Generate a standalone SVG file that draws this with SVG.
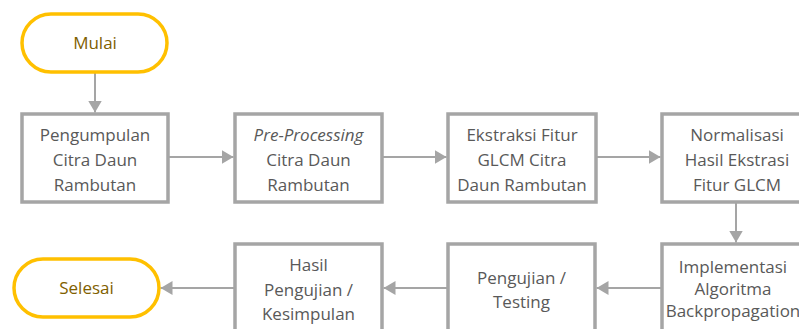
<svg xmlns="http://www.w3.org/2000/svg" width="799" height="329" viewBox="0 0 799 329">
  <style>
    .box { fill: #ffffff; stroke: #a5a5a5; stroke-width: 3.5; }
    .term { fill: #ffffff; stroke: #ffc000; stroke-width: 3.5; }
    .lbl { font-family: "Open Sans", "Noto Sans", "Liberation Sans", sans-serif; font-size: 17px; fill: #595959; text-anchor: middle; }
    .tlbl { font-family: "Open Sans", "Noto Sans", "Liberation Sans", sans-serif; font-size: 17px; fill: #7f6000; text-anchor: middle; }
    .conn { stroke: #a5a5a5; stroke-width: 2; fill: none; marker-end: url(#arrow); }
  </style>
  <defs>
    <marker id="arrow" markerWidth="6" markerHeight="7" refX="6" refY="3.5" orient="auto" markerUnits="strokeWidth">
      <path d="M0,0 L6,3.5 L0,7 Z" fill="#a5a5a5"/>
    </marker>
  </defs>
  <rect width="799" height="329" fill="#ffffff"/>

  <g id="connectors">
    <line class="conn" x1="95" y1="73" x2="95" y2="112.5"/>
    <line class="conn" x1="168" y1="157" x2="233.5" y2="157"/>
    <line class="conn" x1="382" y1="157" x2="446.5" y2="157"/>
    <line class="conn" x1="596" y1="157" x2="660.5" y2="157"/>
    <line class="conn" x1="736" y1="202" x2="736" y2="242.5"/>
    <line class="conn" x1="662" y1="288" x2="596.5" y2="288"/>
    <line class="conn" x1="448" y1="288" x2="383.5" y2="288"/>
    <line class="conn" x1="235" y1="288" x2="160.5" y2="288"/>
  </g>

  <g id="mulai">
    <rect class="term" x="22" y="14" width="145" height="58" rx="29" ry="29"/>
    <text class="tlbl" x="95" y="49">Mulai</text>
  </g>

  <g id="pengumpulan">
    <rect class="box" x="22" y="114" width="146" height="88"/>
    <text class="lbl" x="95" y="141">Pengumpulan</text>
    <text class="lbl" x="95" y="166">Citra Daun</text>
    <text class="lbl" x="95" y="191">Rambutan</text>
  </g>

  <g id="preprocessing">
    <rect class="box" x="235" y="114" width="147" height="88"/>
    <text class="lbl" x="308.5" y="141" font-style="italic">Pre-Processing</text>
    <text class="lbl" x="308.5" y="166">Citra Daun</text>
    <text class="lbl" x="308.5" y="191">Rambutan</text>
  </g>

  <g id="ekstraksi">
    <rect class="box" x="448" y="114" width="148" height="88"/>
    <text class="lbl" x="522" y="141">Ekstraksi Fitur</text>
    <text class="lbl" x="522" y="166">GLCM Citra</text>
    <text class="lbl" x="522" y="191">Daun Rambutan</text>
  </g>

  <g id="normalisasi">
    <rect class="box" x="662" y="114" width="148" height="88"/>
    <text class="lbl" x="737" y="141">Normalisasi</text>
    <text class="lbl" x="737" y="166">Hasil Ekstrasi</text>
    <text class="lbl" x="737" y="191">Fitur GLCM</text>
  </g>

  <g id="implementasi">
    <rect class="box" x="662" y="244" width="148" height="100"/>
    <text class="lbl" x="733" y="273" font-size="15px">Implementasi</text>
    <text class="lbl" x="733" y="295" font-size="15px">Algoritma</text>
    <text class="lbl" x="733" y="317" font-size="15px">Backpropagation</text>
  </g>

  <g id="pengujian">
    <rect class="box" x="448" y="244" width="147" height="100"/>
    <text class="lbl" x="521.5" y="284">Pengujian /</text>
    <text class="lbl" x="521.5" y="308">Testing</text>
  </g>

  <g id="hasil">
    <rect class="box" x="235" y="244" width="147" height="100"/>
    <text class="lbl" x="308.5" y="271">Hasil</text>
    <text class="lbl" x="308.5" y="296">Pengujian /</text>
    <text class="lbl" x="308.5" y="320">Kesimpulan</text>
  </g>

  <g id="selesai">
    <rect class="term" x="14" y="259" width="145" height="58" rx="29" ry="29"/>
    <text class="tlbl" x="86.5" y="294">Selesai</text>
  </g>
</svg>
